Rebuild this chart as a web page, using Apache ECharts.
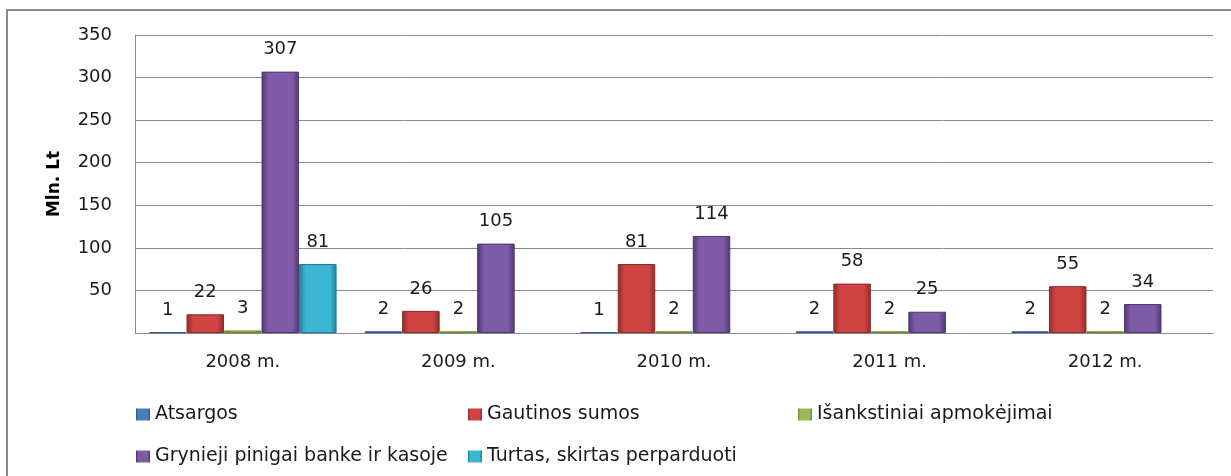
<!DOCTYPE html>
<html>
<head>
<meta charset="utf-8">
<script src="https://cdn.jsdelivr.net/npm/echarts@6/dist/echarts.min.js"></script>
<style>
  html, body { margin: 0; padding: 0; background: #fff; }
  #chartBox { width: 1231px; height: 476px; }
</style>
</head>
<body>
<div id="chartBox"></div>
<script>
// metai
var categories = ['2008 m.', '2009 m.', '2010 m.', '2011 m.', '2012 m.']
// mln. Lt
var atsargos = [1, 2, 1, 2, 2]
var gautinosSumos = [22, 26, 81, 58, 55]
var isankstiniai = [3, 2, 2, 2, 2]
var grynieji = [307, 105, 114, 25, 34]
var turtas = [81, null, null, null, null]
var yTicks = [0, 50, 100, 150, 200, 250, 300, 350]

var font = 'DejaVu Sans'

function bevel (main, dark) {
  return {
    type: 'linear', x: 0, y: 0, x2: 1, y2: 0,
    colorStops: [
      { offset: 0, color: dark },
      { offset: 0.18, color: main },
      { offset: 0.82, color: main },
      { offset: 1, color: dark }
    ]
  }
}

function makeSeries (name, data, main, dark) {
  return {
    name: name,
    type: 'bar',
    data: data,
    barGap: '0%',
    barCategoryGap: '13%',
    itemStyle: {
      color: bevel(main, dark),
      borderColor: dark,
      borderWidth: 1
    },
    label: {
      show: true,
      position: 'top',
      distance: 13,
      fontFamily: font,
      fontSize: 18,
      color: '#1a1a1a'
    }
  }
}

function makeLegend (name, left, top) {
  return {
    data: [name],
    left: left,
    top: top,
    itemWidth: 14,
    itemHeight: 12,
    icon: 'rect',
    itemStyle: { borderWidth: 0 },
    textStyle: { fontFamily: font, fontSize: 19, color: '#1a1a1a' }
  }
}

var myChart = echarts.init(document.getElementById('chartBox'))
myChart.setOption({
  animation: false,
  graphic: [{
    type: 'rect',
    shape: { x: 7, y: 10, width: 1240, height: 480 },
    style: { fill: 'none', stroke: '#8a8a8a', lineWidth: 2 }
  }],
  legend: [
    makeLegend('Atsargos', 131, 400),
    makeLegend('Gautinos sumos', 463, 400),
    makeLegend('Išankstiniai apmokėjimai', 793, 400),
    makeLegend('Grynieji pinigai banke ir kasoje', 131, 442),
    makeLegend('Turtas, skirtas perparduoti', 463, 442)
  ],
  grid: { left: 135, right: 18, top: 35, bottom: 143 },
  xAxis: {
    type: 'category',
    data: categories,
    axisLine: { lineStyle: { color: '#8a8a8a', width: 1 } },
    axisTick: { show: false },
    axisLabel: { fontFamily: font, fontSize: 18, color: '#1a1a1a', margin: 20 }
  },
  yAxis: {
    type: 'value',
    min: yTicks[0],
    max: yTicks[yTicks.length - 1],
    interval: 50,
    name: 'Mln. Lt',
    nameLocation: 'middle',
    nameGap: 72,
    nameTextStyle: { fontFamily: font, fontSize: 17, fontWeight: 'bold', color: '#000' },
    axisLine: { show: true, lineStyle: { color: '#8a8a8a', width: 1 } },
    axisTick: { show: false },
    splitLine: { lineStyle: { color: '#8a8a8a', width: 1 } },
    axisLabel: {
      fontFamily: font, fontSize: 18, color: '#1a1a1a', margin: 23,
      formatter: function (v) { return v === 0 ? '' : v }
    }
  },
  series: [
    makeSeries('Atsargos', atsargos, '#4a7ebb', '#2b5a8e'),
    makeSeries('Gautinos sumos', gautinosSumos, '#d04543', '#8e2a28'),
    makeSeries('Išankstiniai apmokėjimai', isankstiniai, '#9bbb59', '#6a8a2c'),
    makeSeries('Grynieji pinigai banke ir kasoje', grynieji, '#7d5ba6', '#4e3670'),
    makeSeries('Turtas, skirtas perparduoti', turtas, '#3db6d3', '#1f7f98')
  ]
})
</script>
</body>
</html>
